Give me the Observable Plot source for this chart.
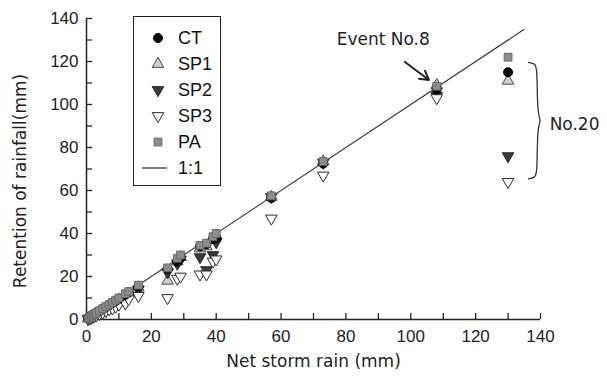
<!DOCTYPE html>
<html><head><meta charset="utf-8">
<script src="https://cdn.jsdelivr.net/npm/d3@7"></script>
<script src="https://cdn.jsdelivr.net/npm/@observablehq/plot@0.6"></script>
<style>
body{margin:0;background:#fff;font-family:"DejaVu Sans",sans-serif;}
#wrap{position:relative;width:607px;height:379px;overflow:hidden;}
#wrap svg.plot{position:absolute;left:0;top:0;}
#legend{position:absolute;left:133px;top:16px;width:86px;height:168px;border:1.5px solid #222;background:#fff;}
.row{position:absolute;left:0;height:20px;display:flex;align-items:center;}
.row svg{width:24px;height:20px;margin-left:12px;}
.row span{font-family:"Liberation Sans",Arial,sans-serif;font-size:18px;color:#111;margin-left:8px;}
</style></head>
<body><div id="wrap"><div id="legend"></div></div>
<script>
// ---- data ----
const netRain = [0.5,1,1.5,2,2.5,3,4,5,6,7,8,9,10,12,13,16,25,28,29,35,37,39,40,57,73,108,130];
const CT  = [0.5,1,1.4,1.9,2.4,2.9,3.8,4.8,5.7,6.6,7.6,8.5,9.5,11.5,12.5,15.3,23.5,27,28.5,34,35,37.5,38,56.5,72.5,107,115];
const SP1 = [0.5,0.9,1.4,1.8,2.3,2.8,3.7,4.6,5.5,6.5,7.3,8.3,9.2,11,12,14.8,18,27,29,33,34,37,39,57,73.5,109,111];
const SP2 = [0.3,0.7,1.1,1.5,2,2.4,3.2,4,4.8,5.6,6.5,7.3,8.2,10,11,14,22,26,28,29,23,30,36,57,73,104,76];
const SP3 = [0.2,0.5,0.8,1.2,1.6,2,2.6,3.2,4,4.7,5.2,6,7,7.5,9.5,11,10,19,20,21,21,27,28,47,67,103,64];
const PA  = [0.5,1,1.5,2,2.5,3,4,5,6,7,8,9,10,12,13,16,24,28.5,30,34.5,35.5,38.5,40,57.5,73.5,108.5,122];
const oneToOne = [0, 135];
const xTickLabels = [0,20,40,60,80,100,120,140];
const yTickLabels = [0,20,40,60,80,100,120,140];
const minorTicks = [0,10,20,30,40,50,60,70,80,90,100,110,120,130,140];
const seriesNames = ["CT","SP1","SP2","SP3","PA","1:1"];
const event8Label = [{x:91.5, y:130, text:"Event No.8"}];
const event8Arrow = [{x1:98.2, y1:119.8, x2:105.6, y2:111.4}];
const no20Label = [{x:150.5, y:90.5, text:"No.20"}];
const no20Bracket = [[136.3,119.6],[138.3,119],[139,117],[139,95],[140.3,92.5],[139,90],[139,68],[138.3,66],[136.3,65.4]];

// ---- symbols ----
const triDown = {draw(ctx, size){const y = -Math.sqrt(size/(Math.sqrt(3)*3)); ctx.moveTo(0,-y*2); ctx.lineTo(Math.sqrt(3)*y, y); ctx.lineTo(-Math.sqrt(3)*y, y); ctx.closePath();}};
const styles = {
  CT:  {symbol:"circle",  r:4.5, fill:"#000", stroke:"#000"},
  SP1: {symbol:"triangle",r:4.3, fill:"#cfcfcf", stroke:"#4a4a4a"},
  SP2: {symbol:triDown,   r:4.3, fill:"#3a3a3a", stroke:"#2a2a2a"},
  SP3: {symbol:triDown,   r:4.3, fill:"#fff", stroke:"#2a2a2a"},
  PA:  {symbol:"square",  r:4.4, fill:"#8c8c8c", stroke:"#6a6a6a"}
};
const seriesData = {CT, SP1, SP2, SP3, PA};
const pts = k => netRain.map((x,i)=>({x, y: seriesData[k][i]}));

const W=607, H=379, mL=86, mR=67, mT=18, mB=60;
const frameW = W-mL-mR, frameH = H-mT-mB;
const tickFont = '"Liberation Sans", Arial, sans-serif';
const titleFont = '"DejaVu Sans", sans-serif';

const dotMark = k => Plot.dot(pts(k), {x:"x", y:"y", symbol: ()=>k, r: styles[k].r, fill: styles[k].fill, stroke: styles[k].stroke, strokeWidth: 1});

const chart = Plot.plot({
  width: W, height: H,
  marginLeft: mL, marginRight: mR, marginTop: mT, marginBottom: mB,
  style: {fontFamily: tickFont, background: "#fff", overflow: "visible"},
  x: {domain:[0,140]},
  y: {domain:[0,140]},
  symbol: {domain: ["CT","SP1","SP2","SP3","PA"], range: [styles.CT.symbol, styles.SP1.symbol, styles.SP2.symbol, styles.SP3.symbol, styles.PA.symbol]},
  marks: [
    Plot.axisX({ticks: xTickLabels, tickSize: 0, tickPadding: 10, fontSize: 17, label: null, tickFormat: d=>String(d), color:"#222"}),
    Plot.axisY({ticks: yTickLabels, tickSize: 0, tickPadding: 8, fontSize: 17, label: null, tickFormat: d=>String(d), color:"#222"}),
    Plot.ruleX(minorTicks, {x: d=>d, insetTop: frameH-6, stroke:"#222", strokeWidth: 1.3}),
    Plot.ruleY(minorTicks, {y: d=>d, insetRight: frameW-6, stroke:"#222", strokeWidth: 1.3}),
    Plot.ruleX([0], {stroke:"#222", strokeWidth: 1.5}),
    Plot.ruleY([0], {stroke:"#222", strokeWidth: 1.5}),
    Plot.line(oneToOne.map(v=>({x:v,y:v})), {x:"x", y:"y", stroke:"#333", strokeWidth: 1.1}),
    dotMark("SP1"), dotMark("SP2"), dotMark("SP3"), dotMark("CT"), dotMark("PA"),
    Plot.text(event8Label, {x:"x", y:"y", text:"text", fontSize: 17, fontFamily: titleFont, fill:"#222"}),
    Plot.arrow(event8Arrow, {x1:"x1", y1:"y1", x2:"x2", y2:"y2", stroke:"#222", strokeWidth: 2, headLength: 9}),
    Plot.line(no20Bracket, {x: d=>d[0], y: d=>d[1], stroke:"#333", strokeWidth: 1.3, curve:"basis", clip: false}),
    Plot.text(no20Label, {x:"x", y:"y", text:"text", fontSize: 17, fontFamily: titleFont, fill:"#222", clip: false}),
    Plot.text(["Retention of rainfall(mm)"], {frameAnchor:"left", textAnchor:"middle", dx:-66, dy: 12, rotate:-90, fontSize: 17, fontFamily: titleFont, fill:"#222"}),
    Plot.text(["Net storm rain (mm)"], {frameAnchor:"bottom", textAnchor:"middle", dy: 47, fontSize: 17, fontFamily: titleFont, fill:"#222"})
  ]
});
chart.classList.add("plot");
document.getElementById("wrap").prepend(chart);

// ---- legend ----
const legend = document.getElementById("legend");
const rowTops = [11,37,63,89,115,141];
seriesNames.forEach((name, i) => {
  const row = document.createElement("div");
  row.className = "row";
  row.style.top = rowTops[i] + "px";
  const ns = "http://www.w3.org/2000/svg";
  const s = document.createElementNS(ns, "svg");
  if (name === "1:1") {
    const l = document.createElementNS(ns, "line");
    l.setAttribute("x1", -4); l.setAttribute("x2", 21); l.setAttribute("y1", 10); l.setAttribute("y2", 10);
    l.setAttribute("stroke", "#333"); l.setAttribute("stroke-width", 1.3);
    s.setAttribute("overflow","visible");
    s.appendChild(l);
  } else {
    const st = styles[name];
    const p = document.createElementNS(ns, "path");
    const sym = typeof st.symbol === "string" ? {circle:d3.symbolCircle, triangle:d3.symbolTriangle, square:d3.symbolSquare}[st.symbol] : st.symbol;
    p.setAttribute("d", d3.symbol(sym, Math.PI*st.r*st.r)());
    p.setAttribute("transform", "translate(12,10)");
    p.setAttribute("fill", st.fill); p.setAttribute("stroke", st.stroke); p.setAttribute("stroke-width", 1);
    s.appendChild(p);
  }
  row.appendChild(s);
  const t = document.createElement("span");
  t.textContent = name;
  row.appendChild(t);
  legend.appendChild(row);
});
</script></body></html>
